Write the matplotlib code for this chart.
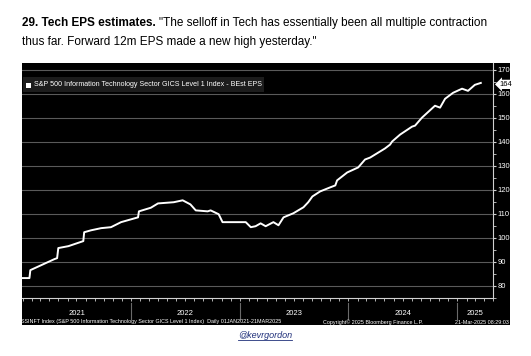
import matplotlib
matplotlib.use("Agg")
import matplotlib.pyplot as plt
import matplotlib.dates as mdates
import numpy as np
import pandas as pd
from matplotlib.patches import Rectangle

# data
dates = ["2021-01-01", "2021-01-24", "2021-01-27", "2021-03-05", "2021-04-18", "2021-04-27",
         "2021-05-01", "2021-06-04", "2021-07-24", "2021-07-27", "2021-08-19", "2021-09-22",
         "2021-10-25", "2021-11-28",
         "2022-01-24", "2022-01-27", "2022-03-08", "2022-04-01", "2022-05-24", "2022-06-23",
         "2022-07-19", "2022-08-06", "2022-09-15", "2022-09-25", "2022-10-22", "2022-11-04",
         "2022-11-21",
         "2023-01-04", "2023-01-21", "2023-02-07", "2023-02-23", "2023-03-12", "2023-03-29",
         "2023-04-04", "2023-04-24", "2023-05-11", "2023-05-28", "2023-06-30", "2023-08-03",
         "2023-08-19", "2023-09-02", "2023-09-28", "2023-11-01", "2023-11-18", "2023-11-24",
         "2023-12-28",
         "2024-02-03", "2024-02-26", "2024-03-14", "2024-05-03", "2024-05-20", "2024-05-27",
         "2024-06-23", "2024-08-02", "2024-08-12", "2024-09-04", "2024-10-18", "2024-11-04",
         "2024-11-21", "2024-12-18",
         "2025-01-17", "2025-02-06", "2025-03-01", "2025-03-21"]
eps = [83.3, 83.3, 86.6, 88.7, 91.2, 91.6, 95.8, 96.6, 98.7, 102.4, 103.2, 104.1, 104.5, 106.6,
       108.6, 111.1, 112.6, 114.4, 114.9, 115.7, 114.0, 111.5, 111.1, 111.5, 109.9, 106.6, 106.6,
       106.6, 106.6, 104.5, 104.9, 106.1, 104.9, 105.3, 106.6, 105.3, 108.6, 110.3, 112.8, 114.9,
       117.3, 119.4, 121.1, 121.9, 124.0, 127.3,
       129.4, 132.7, 133.5, 137.3, 138.9, 140.2, 143.1, 146.4, 146.8, 150.1, 155.1, 154.3, 158.0,
       160.5,
       162.2, 161.3, 163.8, 164.6]
years = [2021, 2022, 2023, 2024, 2025]
yticks = [80, 90, 100, 110, 120, 130, 140, 150, 160, 170]
last_label = "164"

t = pd.to_datetime(dates)
W, H = 531, 356
fig = plt.figure(figsize=(W / 100, H / 100), dpi=100, facecolor='white')
fnt = 'Liberation Sans'

# black panel behind the chart
fig.patches.append(Rectangle((22 / W, 1 - 325 / H), (510 - 22) / W, (325 - 63) / H,
                             transform=fig.transFigure, facecolor='black', edgecolor='none', zorder=-5))

ax = fig.add_axes([22 / W, 1 - 298 / H, (493 - 22) / W, (298 - 63) / H])
ax.set_facecolor('black')
ax.plot(t, eps, color='white', linewidth=1.4, zorder=3)

xmin = pd.Timestamp("2020-12-30")
xmax = pd.Timestamp("2025-05-01")
ax.set_xlim(xmin, xmax)
ax.set_ylim(75.4, 172.9)

ax.yaxis.tick_right()
ax.set_yticks(yticks)
ax.set_yticks(np.arange(75, 172, 5), minor=True)
ax.tick_params(axis='y', which='both', colors='#d0d0d0', labelcolor='white', labelsize=5.5,
               direction='out', length=2, pad=1)
for lab in ax.get_yticklabels():
    lab.set_fontfamily(fnt)
ax.grid(axis='y', which='major', color='#5a5a5a', linewidth=0.8)
ax.set_axisbelow(True)

ax.xaxis.set_major_locator(mdates.MonthLocator())
ax.xaxis.set_major_formatter(plt.NullFormatter())
ax.tick_params(axis='x', colors='#d0d0d0', direction='out', length=2, width=0.6)

for s in ['top', 'left']:
    ax.spines[s].set_visible(False)
ax.spines['right'].set_color('#d0d0d0')
ax.spines['bottom'].set_color('#d0d0d0')
ax.spines['right'].set_linewidth(0.8)
ax.spines['bottom'].set_linewidth(0.8)

# year labels and separators below the axis
trans = ax.get_xaxis_transform()
for i, yr in enumerate(years):
    start = pd.Timestamp(f"{yr}-01-01")
    end = min(pd.Timestamp(f"{yr + 1}-01-01"), xmax)
    mid = start + (end - start) / 2
    ax.text(mid, -0.065, str(yr), transform=trans, ha='center', va='center',
            color='white', fontsize=5.5, fontfamily=fnt, clip_on=False)
    if i > 0:
        ax.plot([start, start], [-0.02, -0.09], transform=trans, color='#6a6a6a',
                linewidth=0.8, clip_on=False)

# legend box
fig.patches.append(Rectangle((23 / W, 1 - 92 / H), (264 - 23) / W, (92 - 77) / H,
                             transform=fig.transFigure, facecolor='#1c1c1c', edgecolor='none', zorder=5))
fig.patches.append(Rectangle((26 / W, 1 - 88 / H), 5 / W, 5 / H,
                             transform=fig.transFigure, facecolor='white', edgecolor='none', zorder=6))
fig.text(34 / W, 1 - 84.5 / H, "S&P 500 Information Technology Sector GICS Level 1 Index - BEst EPS",
         color='white', fontsize=5.1, fontfamily=fnt, va='center', ha='left', zorder=7)

# last value marker
ax.annotate(last_label, xy=(1.0, 164), xycoords=('axes fraction', 'data'),
            xytext=(5, 0), textcoords='offset points', ha='left', va='center',
            fontsize=5.5, fontfamily=fnt, color='black', annotation_clip=False,
            bbox=dict(boxstyle='larrow,pad=0.15', facecolor='white', edgecolor='none'))

# footer line
fig.text(21 / W, 1 - 322 / H,
         "SSINFT Index (S&P 500 Information Technology Sector GICS Level 1 Index)  Daily 01JAN2021-21MAR2025",
         color='white', fontsize=3.9, fontfamily=fnt, va='center', ha='left')
fig.text(323 / W, 1 - 322 / H, "Copyright\u00a9 2025 Bloomberg Finance L.P.",
         color='white', fontsize=3.9, fontfamily=fnt, va='center', ha='left')
fig.text(509 / W, 1 - 322 / H, "21-Mar-2025 08:29:03",
         color='white', fontsize=3.9, fontfamily=fnt, va='center', ha='right')

# title, bold lead-in followed by quote
fig.canvas.draw()
r = fig.canvas.get_renderer()
t1 = fig.text(22 / W, 1 - 23 / H, "29. Tech EPS estimates. ", fontsize=8.5, fontweight='bold',
              fontfamily=fnt, va='center', ha='left', color='black')
bb = t1.get_window_extent(renderer=r)
fig.text(bb.x1 / W, 1 - 23 / H,
         "\"The selloff in Tech has essentially been all multiple contraction",
         fontsize=8.5, fontfamily=fnt, va='center', ha='left', color='black')
fig.text(22 / W, 1 - 42 / H, "thus far. Forward 12m EPS made a new high yesterday.\"",
         fontsize=8.5, fontfamily=fnt, va='center', ha='left', color='black')

# credit link
cred = fig.text(238 / W, 1 - 336 / H, "@kevrgordon", fontsize=6.5, fontfamily=fnt, style='italic',
                va='center', ha='left', color='#1f2f7a')
cb = cred.get_window_extent(renderer=r)
fig.add_artist(plt.Line2D([cb.x0 / W, cb.x1 / W], [(cb.y0 + 0.5) / H, (cb.y0 + 0.5) / H],
                          transform=fig.transFigure, color='#1f2f7a', linewidth=0.6))

fig.savefig("out.png", dpi=100, facecolor='white')
